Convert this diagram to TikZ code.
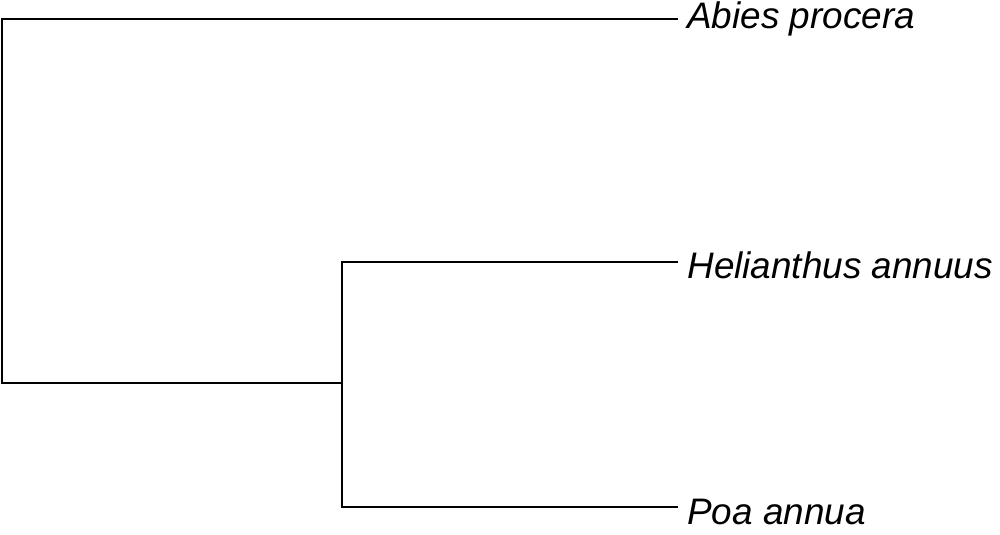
\documentclass[tikz,border=0pt]{standalone}
\usepackage{fontspec}
\setmainfont{Liberation Sans}
\begin{document}
\begin{tikzpicture}[x=0.02cm,y=-0.02cm,
  br/.style={line width=1.4pt,line cap=rect},
  taxon/.style={anchor=west,inner sep=0pt,font=\fontsize{21}{25}\selectfont\itshape}]
\useasboundingbox (0,0) rectangle (1000,534);
\coordinate (root) at (2,383);
\coordinate (inner) at (342,383);
\coordinate (a) at (677,19);
\coordinate (h) at (677,262);
\coordinate (p) at (677,507);
\node[taxon] (ta) at (687,19) {Abies procera};
\node[taxon] (th) at (687,265) {Helianthus annuus};
\node[taxon] (tp) at (687,512) {Poa annua};
\draw[br] (a) -| (root) -- (inner);
\draw[br] (h) -| (inner) |- (p);
\end{tikzpicture}
\end{document}
